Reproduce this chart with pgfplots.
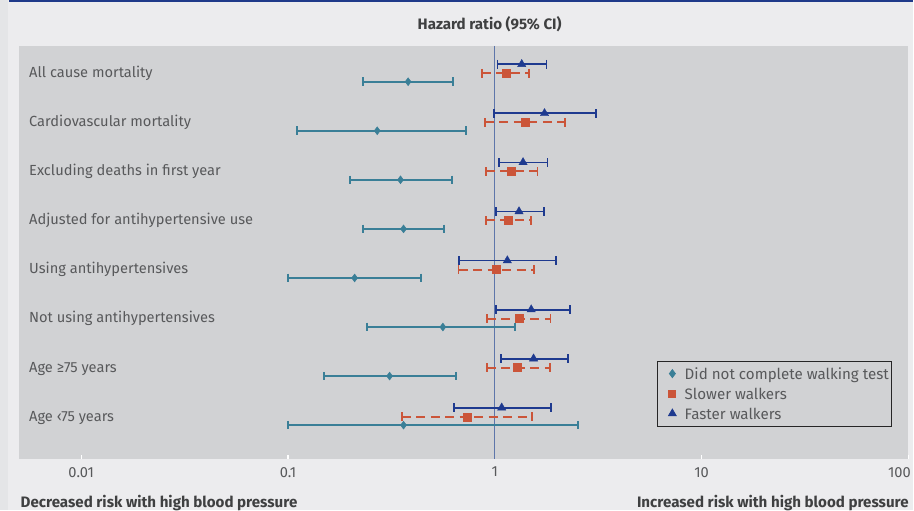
\documentclass[border=0pt]{standalone}
\usepackage{fontspec}
\setmainfont{Fira Sans}
\usepackage{pgfplots}
\usepackage{pgfplotstable}
\pgfplotsset{compat=1.18}
\definecolor{outerbg}{HTML}{ECECEE}
\definecolor{stripbg}{HTML}{E4E5E7}
\definecolor{plotbg}{HTML}{D1D2D4}
\definecolor{topblue}{HTML}{1F3A8A}
\definecolor{cteal}{HTML}{3A7F97}
\definecolor{corange}{HTML}{CB5539}
\definecolor{cblue}{HTML}{1E3A8F}
\definecolor{refline}{HTML}{5E76AA}
\definecolor{txt}{HTML}{58595B}
\definecolor{txtb}{HTML}{3F4041}
\newcommand{\fs}{\fontsize{14.7}{17}\selectfont}
\newcommand{\fb}{\fontsize{15.2}{17}\selectfont\bfseries}
\newcommand{\fl}{\fontsize{15.2}{17}\selectfont}

% point estimates (y position, hazard ratio)
\pgfplotstableread{
y pt
-0.172 0.381
-1.172 0.270
-2.172 0.350
-3.172 0.362
-4.172 0.210
-5.172 0.561
-6.172 0.310
-7.172 0.362
}\tealpts
\pgfplotstableread{
y pt
0 1.13
-1 1.41
-2 1.20
-3 1.155
-4 1.02
-5 1.31
-6 1.29
-7 0.732
}\slowpts
\pgfplotstableread{
y pt
0.183 1.35
-0.817 1.74
-1.817 1.37
-2.817 1.31
-3.817 1.15
-4.817 1.50
-5.817 1.54
-6.817 1.08
}\fastpts

\begin{document}
\begin{tikzpicture}[x=1bp,y=1bp]
\fill[outerbg] (0,0) rectangle (914,510);
\fill[stripbg] (0,0) rectangle (8.5,510);
\fill[topblue] (9,508.3) rectangle (914,510);
\begin{axis}[
  at={(19bp,51bp)}, anchor=south west,
  scale only axis, width=890bp, height=413bp,
  xmode=log, xmin=0.005, xmax=100,
  ymin=-7.855, ymax=0.556,
  axis background/.style={fill=plotbg},
  axis line style={draw=none},
  ytick=\empty,
  xtick={0.01,0.1,1,10}, xticklabels={0.01,0.1,1,10},
  extra x ticks={100}, extra x tick labels={100},
  extra x tick style={xticklabel style={xshift=-9bp}},
  xminorticks=false,
  xtick pos=bottom, tick align=inside, major tick length=4bp,
  tick style={white, line width=1.2bp},
  xticklabel style={font=\fs, text=txt, yshift=-5bp},
  unbounded coords=jump,
  clip=false,
  legend cell align=left,
  legend image code/.code={\draw[#1] plot[only marks] coordinates {(12bp,0bp)}; \path (0bp,0bp) (24bp,0bp);},
  legend style={at={(0.7169,0.2373)}, anchor=north west, fill=plotbg,
    draw=black!85, line width=0.8bp, font=\fl, text=txt,
    inner xsep=3bp, inner ysep=5bp, row sep=5bp,
    nodes={inner xsep=0bp, inner ysep=0bp, text height=13bp, text depth=2bp}},
]
\addplot[refline, line width=1.3bp, forget plot] coordinates {(1,0.556) (1,-7.855)};

% Did not complete walking test: CI
\addplot[cteal, line width=2.2bp, mark=|, mark size=4.3bp, mark options={line width=2bp}, forget plot] table {
x y
0.230 -0.172
0.625 -0.172
nan nan
0.110 -1.172
0.724 -1.172
nan nan
0.200 -2.172
0.620 -2.172
nan nan
0.231 -3.172
0.567 -3.172
nan nan
0.100 -4.172
0.442 -4.172
nan nan
0.242 -5.172
1.25 -5.172
nan nan
0.150 -6.172
0.646 -6.172
nan nan
0.100 -7.172
2.52 -7.172
};
% Slower walkers: CI
\addplot[corange, line width=2bp, dash pattern=on 9bp off 5.5bp, mark=|, mark size=4.3bp, mark options={solid, line width=1.8bp}, forget plot] table {
x y
0.865 0
1.46 0
nan nan
0.895 -1
2.19 -1
nan nan
0.905 -2
1.61 -2
nan nan
0.905 -3
1.50 -3
nan nan
0.668 -4
1.55 -4
nan nan
0.915 -5
1.86 -5
nan nan
0.915 -6
1.85 -6
nan nan
0.355 -7
1.51 -7
};
% Faster walkers: CI
\addplot[cblue, line width=1.8bp, mark=|, mark size=4.3bp, mark options={line width=1.8bp}, forget plot] table {
x y
1.03 0.183
1.78 0.183
nan nan
0.99 -0.817
3.10 -0.817
nan nan
1.045 -1.817
1.80 -1.817
nan nan
1.01 -2.817
1.73 -2.817
nan nan
0.673 -3.817
1.97 -3.817
nan nan
1.01 -4.817
2.32 -4.817
nan nan
1.07 -5.817
2.25 -5.817
nan nan
0.634 -6.817
1.87 -6.817
};

\addplot[only marks, mark=diamond*, cteal, mark size=4bp, forget plot] table[x=pt,y=y] {\tealpts};
\addplot[only marks, mark=square*, corange, mark size=4bp, forget plot] table[x=pt,y=y] {\slowpts};
\addplot[only marks, mark=triangle*, cblue, mark size=4.8bp, forget plot] table[x=pt,y=y] {\fastpts};

\addlegendimage{cteal, mark=diamond*, mark size=4bp}
\addlegendentry{Did not complete walking test\hspace{3bp}}
\addlegendimage{corange, mark=square*, mark size=3.5bp}
\addlegendentry{Slower walkers}
\addlegendimage{cblue, mark=triangle*, mark size=4.5bp}
\addlegendentry{Faster walkers}

\begin{scope}[every node/.style={anchor=base west, font=\fs, text=txt, inner sep=0pt, xshift=10bp}]
\node at (axis cs:0.005,-0.09) {All cause mortality};
\node at (axis cs:0.005,-1.09) {Cardiovascular mortality};
\node at (axis cs:0.005,-2.09) {Excluding deaths in first year};
\node at (axis cs:0.005,-3.09) {Adjusted for antihypertensive use};
\node at (axis cs:0.005,-4.09) {Using antihypertensives};
\node at (axis cs:0.005,-5.09) {Not using antihypertensives};
\node at (axis cs:0.005,-6.09) {Age ≥75 years};
\node at (axis cs:0.005,-7.09) {Age ‹75 years};
\end{scope}
\end{axis}
\node[font=\fb, text=txtb] at (490,486) {Hazard ratio (95\% CI)};
\node[font=\fb, text=txtb, anchor=base west, inner sep=0pt] at (20.5,2) {Decreased risk with high blood pressure};
\node[font=\fb, text=txtb, anchor=base east, inner sep=0pt] at (909.5,2) {Increased risk with high blood pressure};
\end{tikzpicture}
\end{document}
